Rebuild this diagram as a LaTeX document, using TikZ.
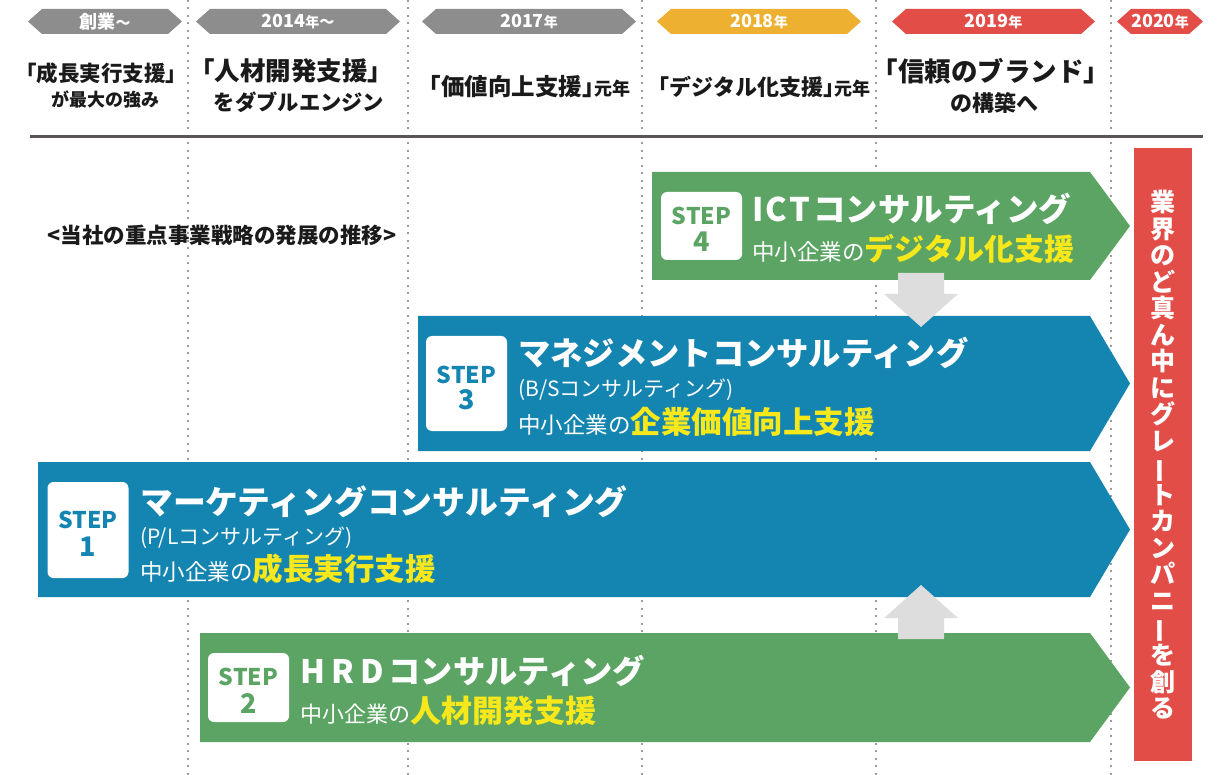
\documentclass[tikz,border=0pt]{standalone}
\usepackage{fontspec}
\usepackage{graphicx}
\setmainfont{Noto Sans CJK JP}
\definecolor{bluec}{HTML}{1484B1}
\definecolor{greenc}{HTML}{5BA463}
\definecolor{redc}{HTML}{E34D47}
\definecolor{goldc}{HTML}{EDB031}
\definecolor{hgray}{HTML}{8D8D8D}
\definecolor{agray}{HTML}{DDDDDD}
\definecolor{dgray}{HTML}{9C9C9C}
\definecolor{rulec}{HTML}{5A5656}
\definecolor{yel}{HTML}{F7E81C}
\definecolor{txt}{HTML}{1A1A1A}
\newcommand{\fsz}[1]{\fontsize{#1}{#1}\selectfont}
\newcommand{\halfclose}{{\addfontfeatures{RawFeature=+halt}」}}
\newcommand{\mychev}[5]{%
  \fill[#4] (#2,21.5) -- (#2+14,9) -- (#3-14,9) -- (#3,21.5) -- (#3-14,34) -- (#2+14,34) -- cycle;
  \node[hdrtxt] (#1) at ({(#2+#3)/2},21.5) {#5};}
\newcommand{\vbar}{\rotatebox[origin=c]{90}{ー}}
\tikzset{
  dotv/.style={draw=dgray, line width=2pt, dash pattern=on 2pt off 5.5pt},
  hdrtxt/.style={text=white, font=\bfseries\fsz{18}, inner sep=0},
  coltxt/.style={text=txt, font=\bfseries, inner sep=0, align=center},
  stepbox/.style={fill=white, rounded corners=6pt, minimum width=81pt, inner sep=0},
  steplbl/.style={font=\bfseries\fsz{23}, inner sep=0},
  stepnum/.style={font=\bfseries\fsz{27}, inner sep=0},
  ttl/.style={text=white, anchor=base west, inner sep=0},
  garrow/.style={fill=agray}
}
\begin{document}
\begin{tikzpicture}[x=1pt,y=-1pt]
\useasboundingbox (0,0) rectangle (1231,775);
\fill[white] (0,0) rectangle (1231,775);
% dotted column lines
\foreach \xx in {188,408,642,876,1111} \draw[dotv] (\xx,0) -- (\xx,775);
% header chevrons
\mychev{h1}{28}{182}{hgray}{創業{\fsz{15}～}}
\mychev{h2}{196}{400}{hgray}{2014{\fsz{14}年}{\fsz{15}～}}
\mychev{h3}{422}{636}{hgray}{2017{\fsz{14}年}}
\mychev{h4}{657}{861}{goldc}{2018{\fsz{14}年}}
\mychev{h5}{892}{1095}{redc}{2019{\fsz{14}年}}
\mychev{h6}{1117}{1203}{redc}{2020{\fsz{14}年}}
% header column texts
\node[coltxt, font=\bfseries\fsz{21.5}] (c1a) at (101,73) {「成長実行支援」};
\node[coltxt, font=\bfseries\fsz{18}] (c1b) at (105,100) {が最大の強み};
\node[coltxt, font=\bfseries\fsz{25.5}] (c2a) at (291,71) {「人材開発支援」};
\node[coltxt, font=\bfseries\fsz{21.3}] (c2b) at (299,102) {をダブルエンジン};
\node[coltxt, font=\bfseries\fsz{23.5}] (c3) at (524,87) {「価値向上支援\halfclose{\fsz{18}元年}};
\node[coltxt, font=\bfseries\fsz{22}] (c4) at (759,87) {「デジタル化支援\halfclose{\fsz{18}元年}};
\node[coltxt, font=\bfseries\fsz{26.5}] (c5a) at (991,71) {「信頼のブランド」};
\node[coltxt, font=\bfseries\fsz{22}] (c5b) at (994,103) {の構築へ};
% rule
\draw[rulec, line width=2.6pt] (30,136.5) -- (1203,136.5);
% subtitle
\node[coltxt, font=\bfseries\fsz{21.5}] (sub) at (222,235) {<当社の重点事業戦略の発展の推移>};
% red column
\fill[redc] (1134,148) rectangle (1192,761);
\node[text=white, font=\bfseries\fontsize{25}{26.5}\selectfont, align=center, inner sep=0] (goal) at (1163,455)
 {業\\界\\の\\ど\\真\\ん\\中\\に\\グ\\レ\\\vbar\\ト\\カ\\ン\\パ\\ニ\\\vbar\\を\\創\\る};
% STEP 4
\fill[greenc] (652,172) -- (1090,172) -- (1130,226) -- (1090,280) -- (652,280) -- cycle;
\node[stepbox, minimum height=68pt] (b4) at (701.5,226) {};
\node[steplbl, text=greenc] (l4) at (701.5,216) {STEP};
\node[stepnum, text=greenc] (n4) at (701.5,242) {4};
\node[ttl, font=\bfseries\fsz{32.5}] (t4) at (752,222) {I\kern2pt C\kern2pt T\kern3pt コンサルティング};
\node[ttl] (u4) at (752,261) {\fsz{22.5}中小企業の{\color{yel}\bfseries\fsz{30}デジタル化支援}};
% STEP 3
\fill[bluec] (418,316) -- (1090,316) -- (1130,383.5) -- (1090,451) -- (418,451) -- cycle;
\node[stepbox, minimum height=95pt] (b3) at (466.5,383.5) {};
\node[steplbl, text=bluec] (l3) at (466.5,375) {STEP};
\node[stepnum, text=bluec] (n3) at (466.5,400) {3};
\node[ttl, font=\bfseries\fsz{32.3}] (t3) at (518,366) {マネジメントコンサルティング};
\node[ttl, font=\fsz{21}] (p3) at (518,396) {(B/Sコンサルティング)};
\node[ttl] (u3) at (518,433) {\fsz{22.5}中小企業の{\color{yel}\bfseries\fsz{30.5}企業価値向上支援}};
% STEP 1
\fill[bluec] (38,462) -- (1090,462) -- (1130,529.5) -- (1090,597) -- (38,597) -- cycle;
\node[stepbox, minimum height=96pt] (b1) at (88,530) {};
\node[steplbl, text=bluec] (l1) at (88,520) {STEP};
\node[stepnum, text=bluec] (n1) at (88,547) {1};
\node[ttl, font=\bfseries\fsz{32.8}] (t1) at (140,514) {マーケティングコンサルティング};
\node[ttl, font=\fsz{21}] (p1) at (140,544) {(P/Lコンサルティング)};
\node[ttl] (u1) at (140,580) {\fsz{22.5}中小企業の{\color{yel}\bfseries\fsz{30.5}成長実行支援}};
% STEP 2
\fill[greenc] (200,633) -- (1090,633) -- (1130,687.5) -- (1090,742) -- (200,742) -- cycle;
\node[stepbox, minimum height=69pt] (b2) at (248.5,687.5) {};
\node[steplbl, text=greenc] (l2) at (248.5,677) {STEP};
\node[stepnum, text=greenc] (n2) at (248.5,704) {2};
\node[ttl, font=\bfseries\fsz{32.3}] (t2) at (300,683) {H\kern6pt R\kern6pt D\kern5pt コンサルティング};
\node[ttl] (u2) at (300,722) {\fsz{22}中小企業の{\color{yel}\bfseries\fsz{31}人材開発支援}};
% gray arrows
\fill[garrow] (898,273) -- (944,273) -- (944,294) -- (958,294) -- (921,327) -- (884,294) -- (898,294) -- cycle;
\fill[garrow] (898,639) -- (944,639) -- (944,618) -- (958,618) -- (921,585) -- (884,618) -- (898,618) -- cycle;
\end{tikzpicture}
\end{document}
